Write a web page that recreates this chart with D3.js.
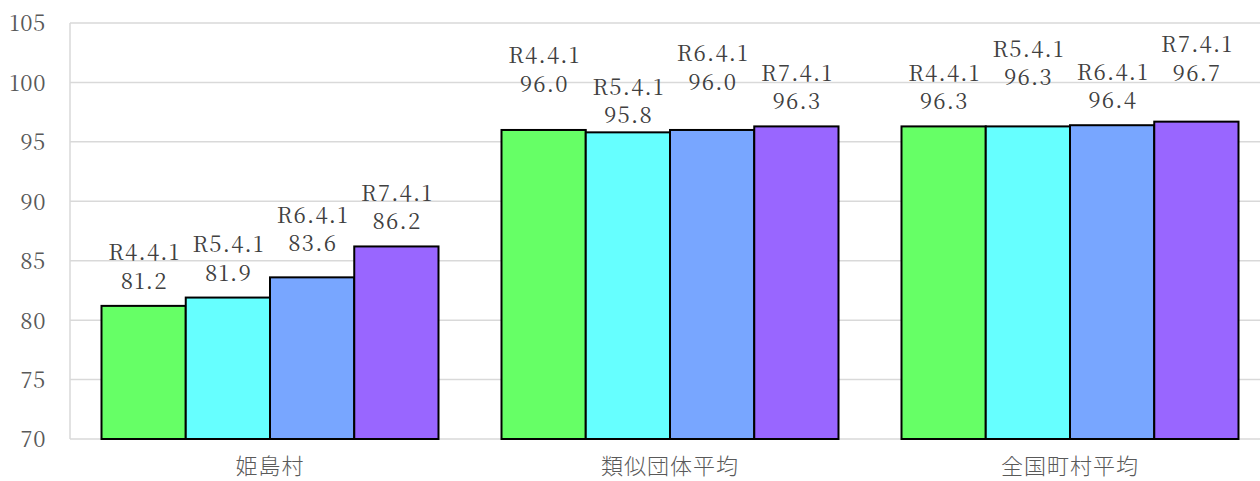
<!DOCTYPE html>
<html lang="ja">
<head>
<meta charset="utf-8">
<script src="https://cdn.jsdelivr.net/npm/d3@7/dist/d3.min.js"></script>
<style>
  html, body { margin: 0; padding: 0; background: #fff; }
  svg { display: block; }
</style>
</head>
<body>
<svg id="chart" width="1260" height="481"></svg>
<script>
// 経常収支比率などの推移（各年4月1日時点）
const categories = ["姫島村", "類似団体平均", "全国町村平均"];
const seriesNames = ["R4.4.1", "R5.4.1", "R6.4.1", "R7.4.1"];
const valuesR4 = [81.2, 96.0, 96.3];
const valuesR5 = [81.9, 95.8, 96.3];
const valuesR6 = [83.6, 96.0, 96.4];
const valuesR7 = [86.2, 96.3, 96.7];
const yTicks = [70, 75, 80, 85, 90, 95, 100, 105];

const seriesValues = [valuesR4, valuesR5, valuesR6, valuesR7];
const colors = ["#66ff66", "#66ffff", "#78a6ff", "#9966ff"];

// extra lift (px) of each data label above its bar, per category / series,
// so neighbouring labels do not collide
const labelLift = [
  [0, 0, 9, 0],
  [21, -8, 23, 0],
  [0, 24, 0, 24]
];

const serifFont = "'Noto Serif CJK JP', 'DejaVu Serif', serif";
const sansFont = "'Noto Sans CJK JP', sans-serif";

const svg = d3.select("#chart");
const margin = { left: 70, top: 23, bottom: 42 };
const W = 1260, H = 481;
const plotRight = 1270;

const y = d3.scaleLinear().domain([70, 105]).range([H - margin.bottom, margin.top]);
const x0 = d3.scaleBand().domain(categories).range([margin.left, plotRight]).padding(0);
const x1 = d3.scaleBand().domain(seriesNames)
  .range([x0.bandwidth() * 0.07875, x0.bandwidth() * (1 - 0.07875)]).padding(0);

// gridlines
svg.append("g")
  .selectAll("line")
  .data(yTicks)
  .join("line")
  .attr("x1", margin.left)
  .attr("x2", W)
  .attr("y1", d => y(d))
  .attr("y2", d => y(d))
  .attr("stroke", "#d9d9d9")
  .attr("stroke-width", 1.5);

// left axis line
svg.append("line")
  .attr("x1", margin.left).attr("x2", margin.left)
  .attr("y1", y(105)).attr("y2", y(70))
  .attr("stroke", "#d9d9d9").attr("stroke-width", 1.5);

// y axis labels
const yAxis = d3.axisLeft(y).tickValues(yTicks).tickSize(0).tickPadding(0);
const yg = svg.append("g").attr("transform", `translate(${margin.left - 24},0)`).call(yAxis);
yg.select(".domain").remove();
yg.selectAll("text")
  .attr("font-family", serifFont)
  .attr("font-size", 22)
  .attr("letter-spacing", 0.6)
  .attr("fill", "#595959")
  .attr("dy", "0.36em");

// bars
const rows = categories.map((c, ci) => ({
  category: c,
  items: seriesNames.map((s, si) => ({
    series: s, si, ci, value: seriesValues[si][ci]
  }))
}));

const groups = svg.append("g")
  .selectAll("g")
  .data(rows)
  .join("g")
  .attr("transform", d => `translate(${x0(d.category)},0)`);

groups.selectAll("rect")
  .data(d => d.items)
  .join("rect")
  .attr("x", d => x1(d.series))
  .attr("width", x1.bandwidth())
  .attr("y", d => y(d.value))
  .attr("height", d => y(70) - y(d.value))
  .attr("fill", d => colors[d.si])
  .attr("stroke", "#000")
  .attr("stroke-width", 2);

// data labels: series name above value
const labels = groups.selectAll("text.lbl")
  .data(d => d.items)
  .join("text")
  .attr("class", "lbl")
  .attr("text-anchor", "middle")
  .attr("font-family", serifFont)
  .attr("font-size", 22)
  .attr("letter-spacing", 1.2)
  .attr("fill", "#404040")
  .attr("x", d => x1(d.series) + x1.bandwidth() / 2)
  .attr("y", d => y(d.value) - 17 - labelLift[d.ci][d.si]);

labels.append("tspan")
  .attr("x", d => x1(d.series) + x1.bandwidth() / 2 + 0.6)
  .attr("dy", -28.5)
  .text(d => d.series);
labels.append("tspan")
  .attr("x", d => x1(d.series) + x1.bandwidth() / 2 + 0.6)
  .attr("dy", 28.5)
  .text(d => d.value.toFixed(1));

// category labels
svg.append("g")
  .selectAll("text")
  .data(categories)
  .join("text")
  .attr("x", d => x0(d) + x0.bandwidth() / 2)
  .attr("y", 474)
  .attr("text-anchor", "middle")
  .attr("font-family", sansFont)
  .attr("font-weight", 300)
  .attr("font-size", 22)
  .attr("letter-spacing", 1)
  .attr("fill", "#595959")
  .text(d => d);
</script>
</body>
</html>
